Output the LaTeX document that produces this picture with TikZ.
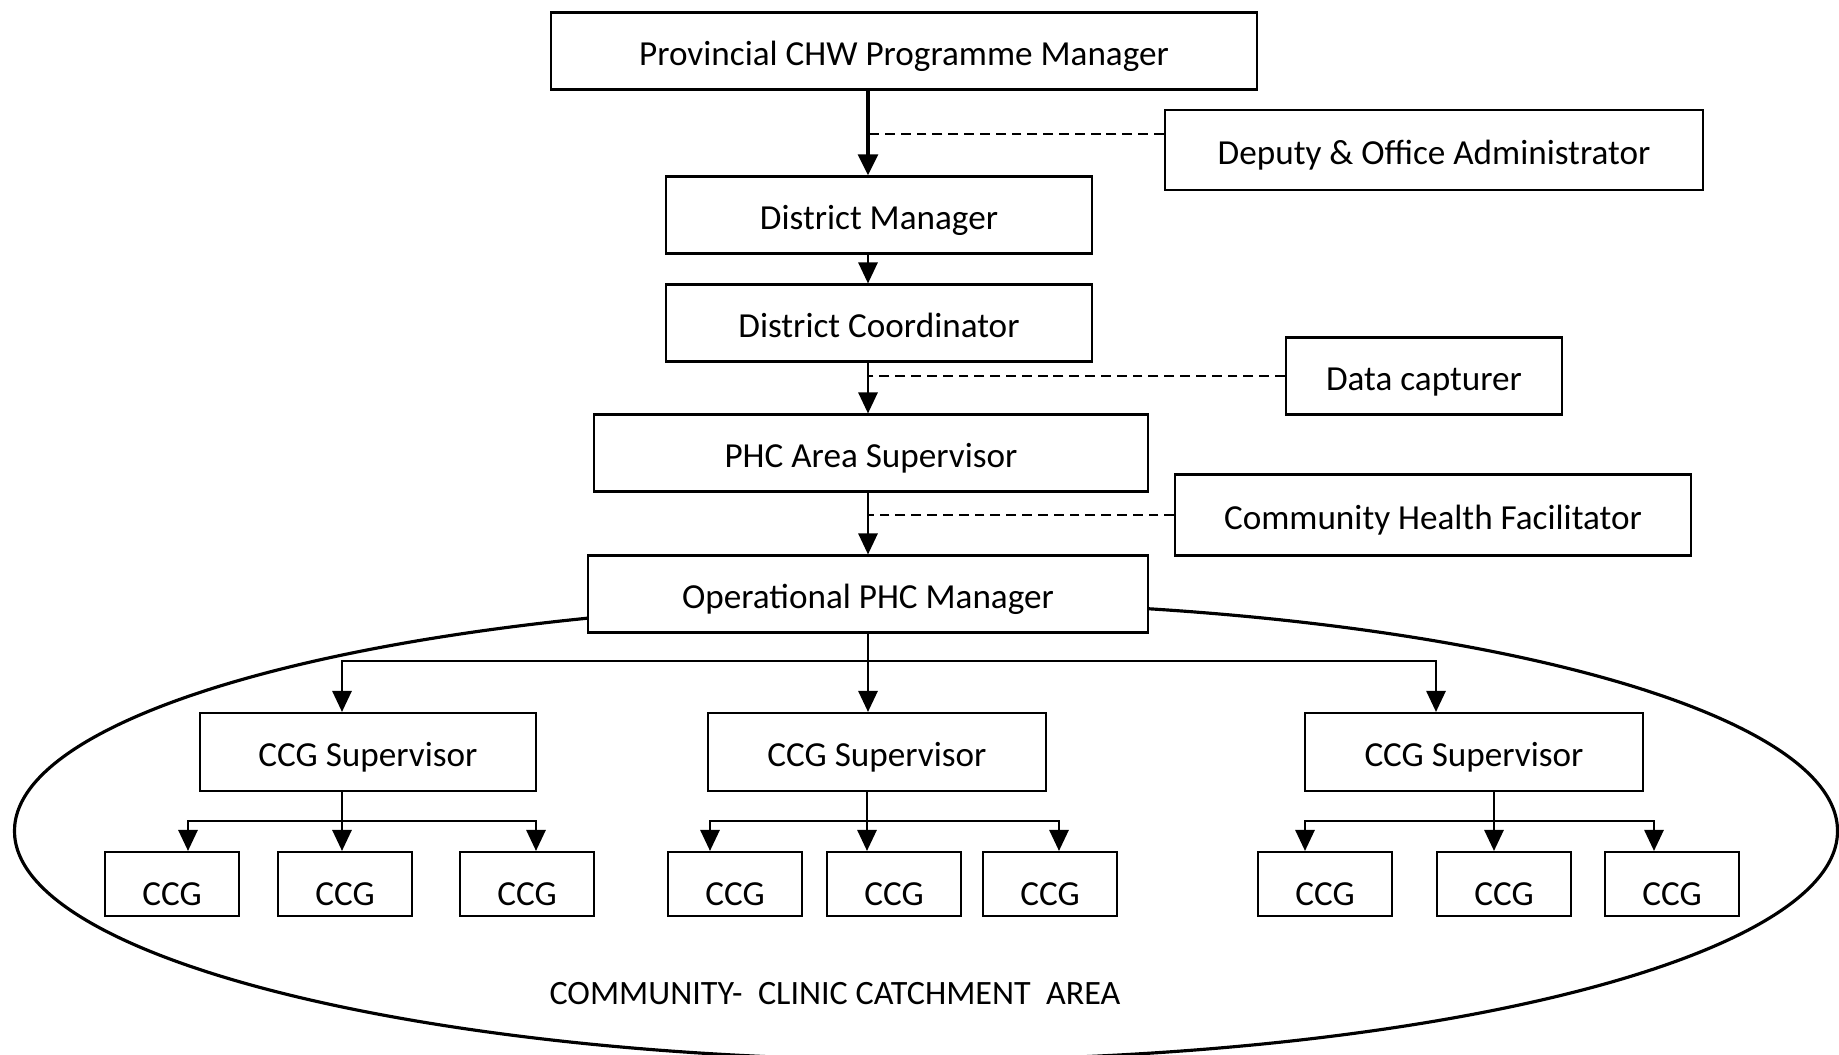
\documentclass[tikz,border=0pt]{standalone}
\usepackage{fontspec}
\setmainfont{Carlito}
\usetikzlibrary{arrows.meta,calc}

\begin{document}
\begin{tikzpicture}[x=0.01cm,y=-0.01cm,
  box/.style={draw,rectangle,fill=white,line width=0.6pt,inner sep=0pt,minimum height=0.77cm,text height=8pt,text depth=0pt},
  ccg/.style={box,minimum width=1.34cm,minimum height=0.64cm,text height=0.43cm,text depth=0pt},
  link/.style={line width=0.6pt,-{Triangle[width=5.5pt,length=6pt]}},
  side/.style={line width=0.6pt,dash pattern=on 2.8pt off 1.7pt}]
  \useasboundingbox (0,0) rectangle (1839,1055);
  \draw[line width=0.9pt] (926,831) ellipse [x radius=9.11cm, y radius=2.29cm];

  \node (1) at (904,51) [box,minimum width=7.06cm] {Provincial CHW Programme Manager};
  \node (2) at (1434,150) [box,minimum width=5.38cm,minimum height=0.8cm] {Deputy \& Office Administrator};
  \node (3) at (879,215) [box,minimum width=4.26cm] {District Manager};
  \node (4) at (879,323) [box,minimum width=4.26cm] {District Coordinator};
  \node (5) at (1424,376) [box,minimum width=2.76cm] {Data capturer};
  \node (6) at (871,453) [box,minimum width=5.54cm] {PHC Area Supervisor};
  \node (7) at (1433,515) [box,minimum width=5.15cm,minimum height=0.81cm] {Community Health Facilitator};
  \node (8) at (868,594) [box,minimum width=5.59cm] {Operational PHC Manager};

  \draw[link,line width=1.3pt] (1.south -| 8) -- (3.north -| 8);
  \draw[link] (3.south -| 8) -- (4.north -| 8);
  \draw[link] (4.south -| 8) -- (6.north -| 8);
  \draw[link] (6.south -| 8) -- (8.north);

  \coordinate (d2) at ($(2.north west)!0.31!(2.south west)$);
  \draw[side] (d2) -- (d2 -| 8);
  \draw[side] (5.west) -- (5.west -| 8);
  \draw[side] (7.west) -- (7.west -| 8);

  \node (s1) at (368,752) [box,minimum width=3.35cm,minimum height=0.78cm] {CCG Supervisor};
  \node (s2) at (877,752) [box,minimum width=3.37cm,minimum height=0.78cm] {CCG Supervisor};
  \node (s3) at (1474,752) [box,minimum width=3.38cm,minimum height=0.78cm] {CCG Supervisor};

  \coordinate (t1) at (342,661);
  \coordinate (t3) at (1436,661);
  \draw[link] (8.south) -- (s2.north -| 8);
  \draw[link] (t1 -| 8) -- (t1) -- (s1.north -| t1);
  \draw[link] (t1 -| 8) -- (t3) -- (s3.north -| t3);

  \node (c1) at (172,884) [ccg] {CCG};
  \node (c2) at (345,884) [ccg] {CCG};
  \node (c3) at (527,884) [ccg] {CCG};
  \node (c4) at (735,884) [ccg] {CCG};
  \node (c5) at (894,884) [ccg] {CCG};
  \node (c6) at (1050,884) [ccg] {CCG};
  \node (c7) at (1325,884) [ccg] {CCG};
  \node (c8) at (1504,884) [ccg] {CCG};
  \node (c9) at (1672,884) [ccg] {CCG};

  % first group
  \coordinate (l1) at (188,821);
  \coordinate (m1) at (342,821);
  \coordinate (r1) at (536,821);
  \draw[link] (s1.south -| m1) -- (c2.north -| m1);
  \draw[link] (m1) -- (l1) -- (c1.north -| l1);
  \draw[link] (m1) -- (r1) -- (c3.north -| r1);

  % second group
  \coordinate (l2) at (710,821);
  \coordinate (m2) at (867,821);
  \coordinate (r2) at (1059,821);
  \draw[link] (s2.south -| m2) -- (c5.north -| m2);
  \draw[link] (m2) -- (l2) -- (c4.north -| l2);
  \draw[link] (m2) -- (r2) -- (c6.north -| r2);

  % third group
  \coordinate (l3) at (1305,821);
  \coordinate (m3) at (1494,821);
  \coordinate (r3) at (1654,821);
  \draw[link] (s3.south -| m3) -- (c8.north -| m3);
  \draw[link] (m3) -- (l3) -- (c7.north -| l3);
  \draw[link] (m3) -- (r3) -- (c9.north -| r3);

  \node (area) at (835,994) [font=\fontsize{9.7}{12}\selectfont] {COMMUNITY-\ \ CLINIC CATCHMENT\ \ AREA};
\end{tikzpicture}
\end{document}
